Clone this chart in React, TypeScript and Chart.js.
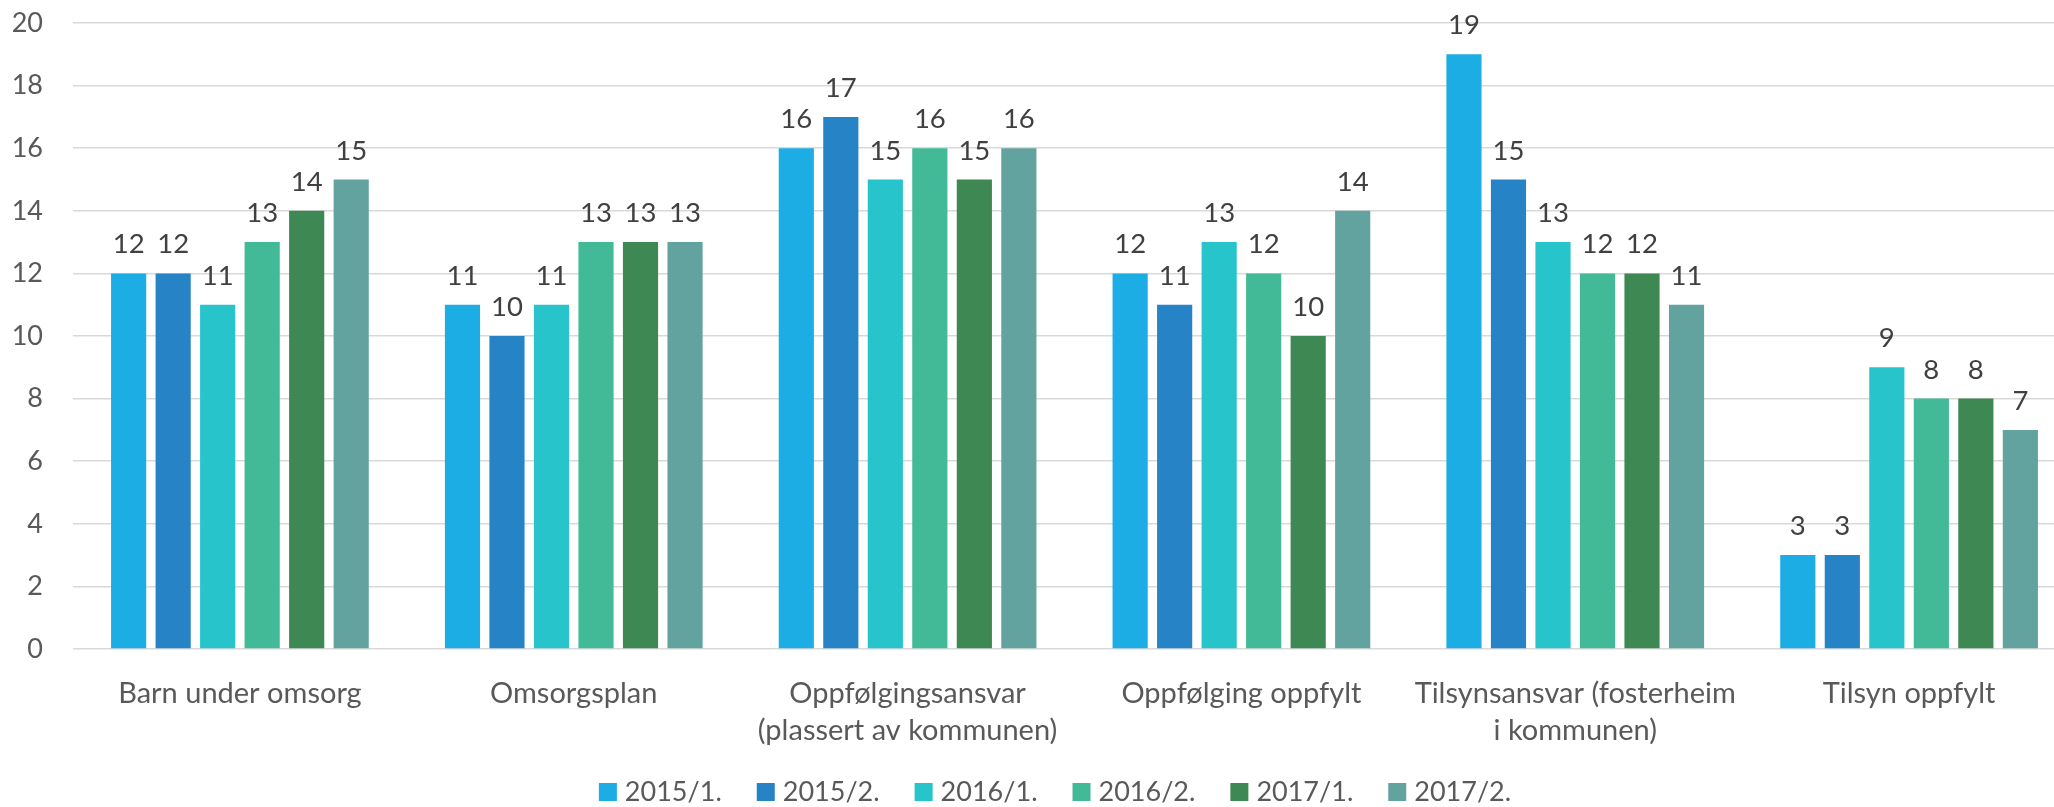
import React, { useEffect, useRef } from "react";
import { Chart, registerables } from "chart.js";

Chart.register(...registerables);

const categories: (string | string[])[] = [
  "Barn under omsorg",
  "Omsorgsplan",
  ["Oppfølgingsansvar", "(plassert av kommunen)"],
  "Oppfølging oppfylt",
  ["Tilsynsansvar (fosterheim", "i kommunen)"],
  "Tilsyn oppfylt",
];

const seriesNames = ["2015/1.", "2015/2.", "2016/1.", "2016/2.", "2017/1.", "2017/2."];
const seriesColors = ["#1CADE4", "#2683C6", "#27C4CC", "#42BA97", "#3E8853", "#62A39F"];

const s2015a = [12, 11, 16, 12, 19, 3];
const s2015b = [12, 10, 17, 11, 15, 3];
const s2016a = [11, 11, 15, 13, 13, 9];
const s2016b = [13, 13, 16, 12, 12, 8];
const s2017a = [14, 13, 15, 10, 12, 8];
const s2017b = [15, 13, 16, 14, 11, 7];
const seriesValues = [s2015a, s2015b, s2016a, s2016b, s2017a, s2017b];

const yTicks = [0, 2, 4, 6, 8, 10, 12, 14, 16, 18, 20];

const FONT = "Lato, 'Open Sans', sans-serif";
const CANVAS_W = 2110;
const CANVAS_H = 807;

const valueLabels = {
  id: "valueLabels",
  afterDatasetsDraw(chart: any) {
    const ctx = chart.ctx;
    ctx.save();
    ctx.font = `27.5px ${FONT}`;
    ctx.fillStyle = "#404040";
    ctx.textAlign = "center";
    ctx.textBaseline = "alphabetic";
    chart.data.datasets.forEach((ds: any, i: number) => {
      const meta = chart.getDatasetMeta(i);
      meta.data.forEach((bar: any, j: number) => {
        ctx.fillText(String(ds.data[j]), bar.x, bar.y - 20);
      });
    });
    ctx.restore();
  },
};

const customLegend = {
  id: "customLegend",
  afterDraw(chart: any) {
    const ctx = chart.ctx;
    ctx.save();
    ctx.font = `27px ${FONT}`;
    const box = 18;
    const gapText = 8;
    const gapItem = 35;
    const widths = chart.data.datasets.map((ds: any) => ctx.measureText(ds.label).width);
    const total =
      widths.reduce((a: number, w: number) => a + box + gapText + w, 0) + gapItem * (widths.length - 1);
    let x = chart.width / 2 - total / 2;
    const boxTop = 783;
    chart.data.datasets.forEach((ds: any, i: number) => {
      ctx.fillStyle = ds.backgroundColor;
      ctx.fillRect(x, boxTop, box, box);
      ctx.fillStyle = "#595959";
      ctx.textAlign = "left";
      ctx.textBaseline = "alphabetic";
      ctx.fillText(ds.label, x + box + gapText, 801);
      x += box + gapText + widths[i] + gapItem;
    });
    ctx.restore();
  },
};

export default function App() {
  const ref = useRef<HTMLCanvasElement | null>(null);

  useEffect(() => {
    if (!ref.current) return;
    const chart = new Chart(ref.current, {
      type: "bar",
      data: {
        labels: categories,
        datasets: seriesNames.map((name, i) => ({
          label: name,
          data: seriesValues[i],
          backgroundColor: seriesColors[i],
          borderWidth: 0,
          categoryPercentage: 0.8,
          barPercentage: 0.79,
        })),
      },
      options: {
        responsive: false,
        animation: false,
        layout: { padding: { top: 23, right: 34, left: 0, bottom: 0 } },
        plugins: {
          legend: { display: false },
          tooltip: { enabled: false },
        },
        scales: {
          x: {
            grid: { display: false },
            border: { display: false },
            ticks: {
              color: "#595959",
              font: { family: FONT, size: 29, lineHeight: 1.276 },
              padding: 18,
              maxRotation: 0,
              autoSkip: false,
            },
            afterFit(scale: any) {
              scale.height = 158;
              scale.paddingLeft = 0;
              scale.paddingRight = 0;
            },
          },
          y: {
            min: 0,
            max: 20,
            afterBuildTicks(scale: any) {
              scale.ticks = yTicks.map((v) => ({ value: v }));
            },
            grid: { color: "#D9D9D9", lineWidth: 1.5, drawTicks: false },
            border: { display: false },
            ticks: {
              color: "#595959",
              font: { family: FONT, size: 27 },
              padding: 30,
            },
            afterFit(scale: any) {
              scale.width = 73;
              scale.paddingTop = 0;
              scale.paddingBottom = 0;
            },
          },
        },
      },
      plugins: [valueLabels, customLegend],
    });
    return () => chart.destroy();
  }, []);

  return (
    <div style={{ position: "fixed", left: 0, top: 0, width: CANVAS_W, height: CANVAS_H, background: "#fff" }}>
      <canvas ref={ref} width={CANVAS_W} height={CANVAS_H} style={{ display: "block" }} />
    </div>
  );
}
